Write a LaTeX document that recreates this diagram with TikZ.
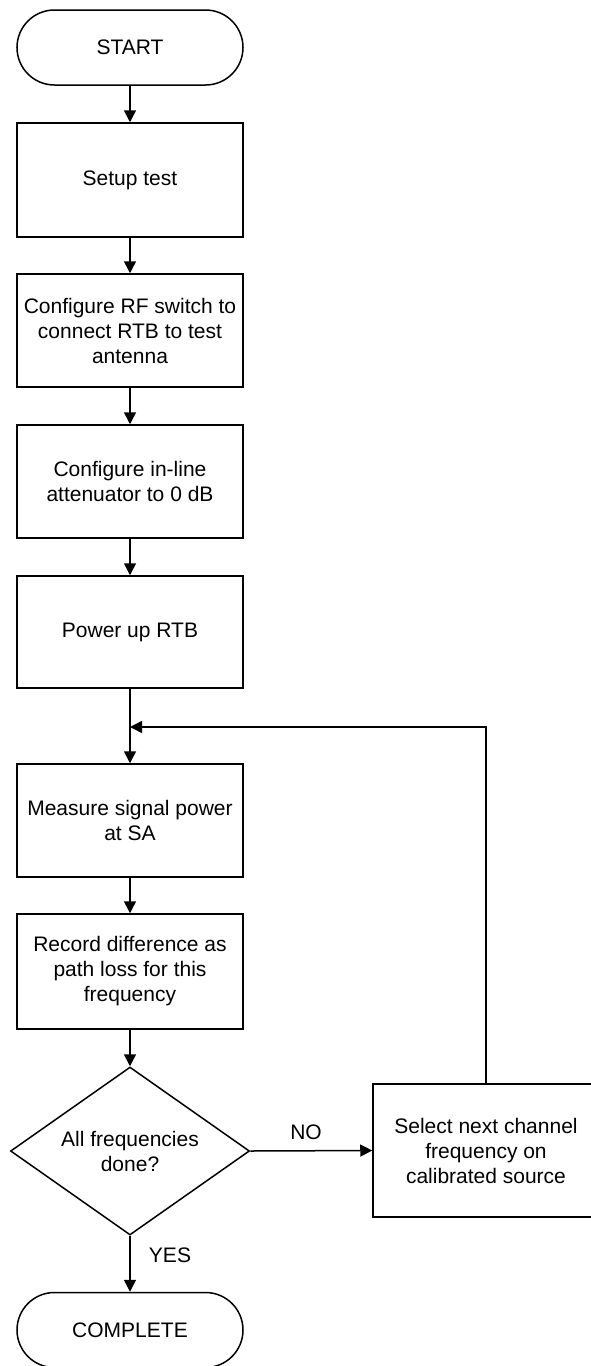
\documentclass[tikz,border=0pt]{standalone}
\usepackage{fontspec}
\setmainfont{Liberation Sans}
\usetikzlibrary{shapes.geometric,arrows.meta}
\begin{document}
\begin{tikzpicture}[x=1pt,y=-1pt,
  txt/.style={font=\fontsize{21}{25}\selectfont, align=center},
  box/.style={txt, draw, line width=1.5pt, rectangle, minimum width=226pt, inner sep=0pt},
  term/.style={txt, draw, line width=1.5pt, rectangle, rounded corners=37.5pt, minimum width=226pt, minimum height=75pt, inner sep=0pt},
  decision/.style={txt, draw, line width=1.5pt, diamond, aspect=1.42, inner sep=0pt, minimum width=239pt, minimum height=168pt},
  arr/.style={line width=1.5pt, -{Triangle[length=12pt,width=12pt]}},
  lbl/.style={font=\fontsize{21}{25}\selectfont}
]
\useasboundingbox (0,0) rectangle (590,1366);
\node[term] (start) at (130,47.5) {START};
\node[box, minimum height=114pt] (setup) at (130,180) {Setup test};
\node[box, minimum height=113pt] (rf) at (130,330.5) {Configure RF switch to\\connect RTB to test\\antenna};
\node[box, minimum height=113pt] (att) at (130,481.5) {Configure in-line\\attenuator to 0 dB};
\node[box, minimum height=112pt] (pwr) at (130,632) {Power up RTB};
\node[box, minimum height=113pt] (meas) at (130,820.5) {Measure signal power\\at SA};
\node[box, minimum height=115pt] (rec) at (130,971.5) {Record difference as\\path loss for this\\frequency};
\node[decision] (dec) at (130,1151) {All frequencies\\done?};
\node[box, minimum height=133pt] (sel) at (486,1150.5) {Select next channel\\frequency on\\calibrated source};
\node[term] (comp) at (130,1330) {COMPLETE};
\coordinate (loopend) at (130,727);
\draw[arr] (start) -- (setup);
\draw[arr] (setup) -- (rf);
\draw[arr] (rf) -- (att);
\draw[arr] (att) -- (pwr);
\draw[arr] (pwr) -- (meas);
\draw[arr] (meas) -- (rec);
\draw[arr] (rec) -- (dec);
\draw[arr] (dec) -- (comp);
\draw[arr] (dec.east) -- (sel.west);
\draw[arr] (sel.north) |- (loopend);
\node[lbl] (yes) at (170,1255) {YES};
\node[lbl] (no) at (306,1132) {NO};
\end{tikzpicture}
\end{document}
